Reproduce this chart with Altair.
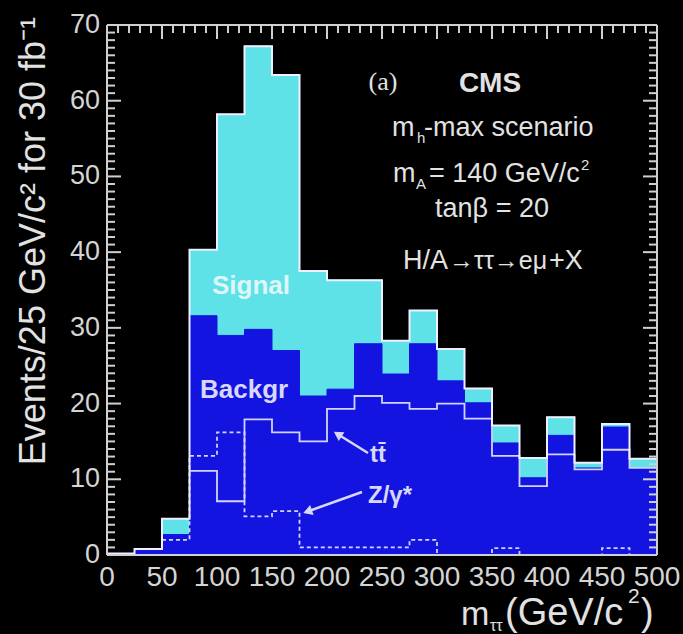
import altair as alt
import pandas as pd

# ---------------- data ----------------
BIN_W = 25
bin_lo = list(range(0, 500, BIN_W))            # 0,25,...,475
total = [0.2, 0.8, 4.8, 40.3, 58.2, 67.2, 63.4, 37.5, 36.3, 36.3,
         28.3, 32.3, 27.2, 22.0, 17.1, 12.8, 18.2, 12.2, 17.3, 12.7]   # signal + background
backgr = [0.2, 0.6, 2.7, 31.6, 29.0, 29.8, 27.0, 21.0, 21.9, 27.9,
          23.9, 27.9, 23.0, 20.1, 14.8, 10.2, 15.8, 11.5, 16.9, 11.5]
tt_lo = list(range(75, 500, BIN_W))
tt = [11.1, 7.1, 17.9, 16.2, 15.0, 19.3, 21.0, 20.1, 19.3, 20.0,
      18.0, 13.1, 9.1, 13.3, 11.3, 13.9, 11.5]
z_lo = list(range(50, 500, BIN_W))
zg = [2.0, 13.1, 16.2, 5.1, 5.8, 1.0, 1.0, 1.0, 1.0, 2.0,
      0.0, 0.0, 0.9, 0.0, 0.0, 0.0, 0.9, 0.0]
x_labels = list(range(0, 501, 50))
y_labels = list(range(0, 71, 10))
x_minor = list(range(0, 501, 10))
y_minor = list(range(0, 71, 1))

# ---------------- layout ----------------
W, H = 550, 530
PL, PT = 107, 25
PR, PB = 683 - PL - W, 634 - PT - H

CYAN = "#5ee2e8"
BLUE = "#1414e0"
LINE = "#d2d2ff"
TXT = "#e2e2e2"
LAB = "#d4d4d4"
AX = "#d0d0d0"
FONT = "Liberation Sans"

xs = alt.Scale(domain=[0, 500], nice=False, zero=False)
ys = alt.Scale(domain=[0, 70], nice=False, zero=False)

def X(f):
    return alt.X(f, scale=xs, axis=None)

def Y(f):
    return alt.Y(f, scale=ys, axis=None)

hist = pd.DataFrame({"lo": bin_lo, "hi": [v + BIN_W for v in bin_lo],
                     "total": total, "backgr": backgr})

def step_df(lo, vals):
    return pd.DataFrame({"x": lo + [lo[-1] + BIN_W], "y": vals + [vals[-1]]})

one = pd.DataFrame({"k": [0]})

sig = alt.Chart(hist).mark_rect(color=CYAN, stroke=CYAN, strokeWidth=1).encode(
    x=X("lo:Q"), x2="hi:Q", y=Y("total:Q"), y2=alt.datum(0))
bkg = alt.Chart(hist).mark_rect(color=BLUE, stroke=BLUE, strokeWidth=1).encode(
    x=X("lo:Q"), x2="hi:Q", y=Y("backgr:Q"), y2=alt.datum(0))

def step_line(df, color, width, dash=None):
    kw = dict(interpolate="step-after", color=color, strokeWidth=width)
    if dash:
        kw["strokeDash"] = dash
    return alt.Chart(df).mark_line(**kw).encode(x=X("x:Q"), y=Y("y:Q"))

tt_line = step_line(step_df(tt_lo, tt), LINE, 1.8)
z_line = step_line(step_df(z_lo, zg), LINE, 1.8, [4, 3])
outline = step_line(step_df(bin_lo, total), "#eef0ff", 2.0)

# ---------------- inner ticks (ROOT style frame) as thin rects ----------------
XU = 500 / W   # GeV per pixel
YU = 70 / H    # events per pixel
MINOR_L, MAJOR_L = 8, 14
HALF = 1.0     # half thickness in pixels
tk_rows = []
for v in y_minor:
    L = MAJOR_L if v in y_labels else MINOR_L
    tk_rows.append({"x0": 0.0, "x1": L * XU, "y0": v - HALF * YU, "y1": v + HALF * YU})
    tk_rows.append({"x0": 500 - L * XU, "x1": 500.0, "y0": v - HALF * YU, "y1": v + HALF * YU})
for v in x_minor:
    L = MAJOR_L if v in x_labels else MINOR_L
    tk_rows.append({"x0": v - HALF * XU, "x1": v + HALF * XU, "y0": 70 - L * YU, "y1": 70.0})

tks = alt.Chart(pd.DataFrame(tk_rows)).mark_rect(color=AX, opacity=1).encode(
    x=X("x0:Q"), x2="x1:Q", y=Y("y0:Q"), y2="y1:Q")

# tick labels drawn through the scales
xlab = alt.Chart(pd.DataFrame({"v": x_labels})).mark_text(
    baseline="top", align="center", fontSize=28, font=FONT, color=LAB).encode(
    x=X("v:Q"), y=alt.value(H + 9), text="v:Q")
ylab = alt.Chart(pd.DataFrame({"v": y_labels})).mark_text(
    baseline="middle", align="right", fontSize=27, font=FONT, color=LAB).encode(
    y=Y("v:Q"), x=alt.value(-7), text="v:Q")

def rule(x, x2, y, y2, color=AX, w=2.0):
    return alt.Chart(one).mark_rule(color=color, strokeWidth=w).encode(
        x=alt.value(x), x2=alt.value(x2), y=alt.value(y), y2=alt.value(y2))

frame = [rule(0, W, 0, 0), rule(0, W, H, H), rule(0, 0, 0, H), rule(W, W, 0, H)]

# ---------------- text (positions in page pixels) ----------------
def txt(s, x, y, size, weight="normal", align="left", color=TXT, font=FONT,
        angle=0, baseline="alphabetic"):
    return alt.Chart(one).mark_text(
        text=s, align=align, baseline=baseline, fontSize=size, fontWeight=weight,
        font=font, color=color, angle=angle).encode(
        x=alt.value(x - PL), y=alt.value(y - PT))

texts = [
    txt("(a)", 383, 90, 26, font="Liberation Serif", align="center"),
    txt("CMS", 490, 92, 28, weight="bold", align="center"),
    txt("m", 392, 136, 27), txt("h", 417, 143, 15), txt("-max scenario", 424, 136, 27),
    txt("m", 393, 182, 27), txt("A", 416, 189, 15), txt("= 140 GeV/c", 429, 182, 27),
    txt("2", 581, 170, 15),
    txt("tanβ = 20", 492, 217, 27, align="center"),
    txt("H/A", 403, 269, 27), txt("→ττ→eμ", 449, 269, 25), txt("+X", 549, 269, 27),
    txt("Signal", 212, 294, 26, weight="bold", color="#dff6f8"),
    txt("Backgr", 200, 398, 26, weight="bold", color="#d8d8ff"),
    txt("tt\u0304", 370, 462, 24, weight="bold", color="#d8d8ff"),
    txt("Z/γ*", 368, 503, 24, weight="bold", color="#d8d8ff"),
    # axis titles
    txt("Events/25 GeV/c² for 30 fb⁻¹", 45, 17, 36, angle=270, align="right"),
    txt("m", 461, 625, 34), txt("ττ", 490, 631, 16),
    txt("(GeV/c", 505, 625, 38), txt("2", 628, 603, 21), txt(")", 641, 625, 38),
]

# arrows
def arrow(tx, ty, hx, hy, ang):
    line = rule(tx - PL, hx - PL, ty - PT, hy - PT, color="#d8d8ff", w=2.5)
    head = alt.Chart(one).mark_point(shape="triangle", filled=True, size=110,
                                     color="#d8d8ff", opacity=1, angle=ang).encode(
        x=alt.value(hx - PL), y=alt.value(hy - PT))
    return [line, head]

arrows = arrow(368, 453, 339, 435, 302.5) + arrow(362, 492, 309, 511, 250.7)

chart = alt.layer(sig, bkg, tt_line, z_line, outline, tks, *frame, xlab, ylab,
                  *arrows, *texts).properties(
    width=W, height=H,
    autosize=alt.AutoSizeParams(type="none"),
    padding={"left": PL, "top": PT, "right": PR, "bottom": PB},
    background="#000000",
).configure_view(stroke=None)

chart.save("out.html", embed_options={"renderer": "svg", "actions": False})
